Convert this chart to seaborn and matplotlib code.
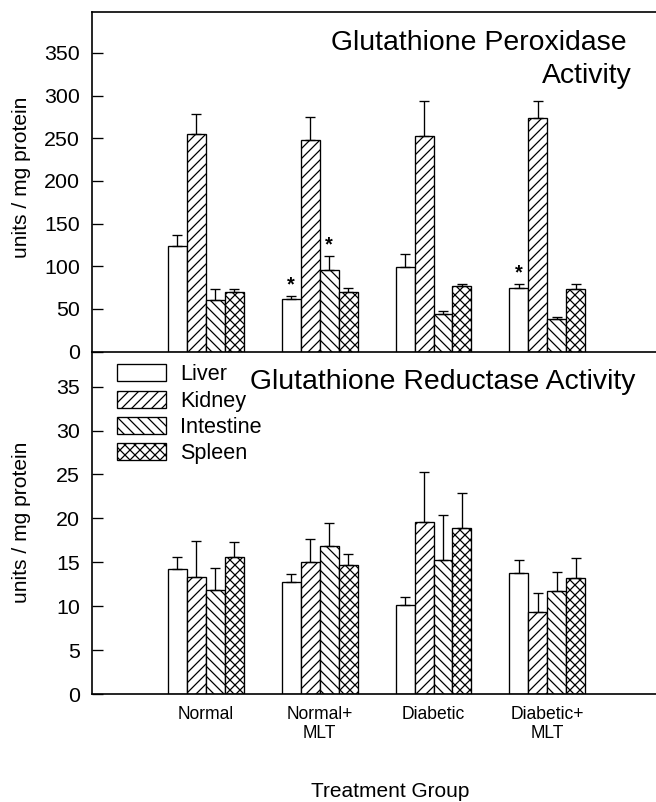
import numpy as np
import pandas as pd
import matplotlib
matplotlib.use("Agg")
import matplotlib.pyplot as plt
import seaborn as sns

# ---------------- data ----------------
groups = ["Normal", "Normal+\nMLT", "Diabetic", "Diabetic+\nMLT"]
tissues = ["Liver", "Kidney", "Intestine", "Spleen"]

# Glutathione peroxidase activity (units / mg protein)
gpx_liver = [123.6, 61.1, 99.6, 74.6]
gpx_kidney = [254.5, 248.2, 252.3, 273.8]
gpx_intestine = [60.0, 95.5, 43.4, 38.3]
gpx_spleen = [69.7, 70.0, 76.5, 73.5]
gpx_liver_err = [12.5, 3.5, 15.0, 4.3]
gpx_kidney_err = [24.0, 27.0, 41.0, 19.5]
gpx_intestine_err = [13.0, 16.0, 3.5, 2.0]
gpx_spleen_err = [4.0, 4.0, 3.0, 5.4]
gpx_significant = [("Normal+\nMLT", "Liver"), ("Normal+\nMLT", "Intestine"),
                   ("Diabetic+\nMLT", "Liver")]

# Glutathione reductase activity (units / mg protein)
gr_liver = [14.2, 12.75, 10.1, 13.75]
gr_kidney = [13.3, 15.0, 19.6, 9.3]
gr_intestine = [11.8, 16.9, 15.3, 11.7]
gr_spleen = [15.6, 14.7, 18.9, 13.2]
gr_liver_err = [1.4, 0.95, 0.9, 1.55]
gr_kidney_err = [4.1, 2.6, 5.7, 2.2]
gr_intestine_err = [2.5, 2.6, 5.1, 2.2]
gr_spleen_err = [1.7, 1.25, 4.0, 2.25]

gpx_ticks = [0, 50, 100, 150, 200, 250, 300, 350]
gr_ticks = [0, 5, 10, 15, 20, 25, 30, 35]

# ---------------- style ----------------
sns.set_theme(style="white")
plt.rcParams["font.family"] = ["Liberation Sans", "DejaVu Sans"]
plt.rcParams.update({
    "hatch.linewidth": 0.75,
    "hatch.color": "black",
    "axes.edgecolor": "black",
    "text.color": "black",
    "xtick.color": "black",
    "ytick.color": "black",
    "axes.labelcolor": "black",
    "axes.linewidth": 1.0,
})

hatches = ["", "////", "\\\\\\\\", "xxxx"]

DPI = 120
W, H = 656, 802
fig = plt.figure(figsize=(W / DPI, H / DPI), dpi=DPI)
fig.patch.set_facecolor("white")


def fx(px):
    return px / W


def fy(py):
    return 1 - py / H


LEFT, RIGHT = 92, 655.5
ax_top = fig.add_axes([fx(LEFT), fy(351.5), fx(RIGHT) - fx(LEFT), fy(12) - fy(351.5)])
ax_bot = fig.add_axes([fx(LEFT), fy(694), fx(RIGHT) - fx(LEFT), fy(351.5) - fy(694)])


def draw_panel(ax, vals, errs, ylim, ticks, sig=()):
    rows = []
    for t in tissues:
        for g, v in zip(groups, vals[t]):
            rows.append({"group": g, "tissue": t, "value": v})
    df = pd.DataFrame(rows)
    sns.barplot(data=df, x="group", y="value", hue="tissue", order=groups,
                hue_order=tissues, palette={t: "white" for t in tissues},
                edgecolor="black", linewidth=0.8, width=0.667, errorbar=None,
                saturation=1, legend=False, ax=ax, zorder=2)
    bar_containers = list(ax.containers)
    for cont, h, t in zip(bar_containers, hatches, tissues):
        xs, ys = [], []
        for p in cont:
            p.set_hatch(h)
            xs.append(p.get_x() + p.get_width() / 2)
            ys.append(p.get_height())
        e = np.array(errs[t])
        ax.errorbar(xs, ys, yerr=[np.zeros_like(e), e], fmt="none",
                    ecolor="black", elinewidth=0.8, capsize=3, capthick=0.8,
                    zorder=3)
    for g, t in sig:
        p = bar_containers[tissues.index(t)][groups.index(g)]
        top = p.get_height() + errs[t][groups.index(g)]
        ax.annotate("*", (p.get_x() + p.get_width() / 2, top),
                    xytext=(0, 7), textcoords="offset points",
                    ha="center", va="center", fontsize=12, fontweight="bold")
    ax.set_xlim(-1.0, 3.95)
    ax.set_ylim(*ylim)
    ax.set_yticks(ticks)
    ax.set_xlabel("")
    ax.set_ylabel("")
    ax.tick_params(axis="y", direction="in", length=6.6, width=0.8,
                   labelsize=12.8, pad=7.2, left=True)
    ax.tick_params(axis="x", bottom=False, length=0)
    ax.set_facecolor("none")
    return bar_containers


draw_panel(ax_top,
           {"Liver": gpx_liver, "Kidney": gpx_kidney,
            "Intestine": gpx_intestine, "Spleen": gpx_spleen},
           {"Liver": gpx_liver_err, "Kidney": gpx_kidney_err,
            "Intestine": gpx_intestine_err, "Spleen": gpx_spleen_err},
           (0, 398), gpx_ticks, gpx_significant)
ax_top.tick_params(axis="x", labelbottom=False)
ax_top.spines["right"].set_visible(False)

bars = draw_panel(ax_bot,
                  {"Liver": gr_liver, "Kidney": gr_kidney,
                   "Intestine": gr_intestine, "Spleen": gr_spleen},
                  {"Liver": gr_liver_err, "Kidney": gr_kidney_err,
                   "Intestine": gr_intestine_err, "Spleen": gr_spleen_err},
                  (0, 39), gr_ticks)
ax_bot.spines["right"].set_visible(False)
ax_bot.spines["top"].set_visible(False)
ax_bot.tick_params(axis="x", labelsize=10.5, pad=7)

ax_bot.legend(handles=bars, labels=tissues, loc="upper left",
              bbox_to_anchor=(0.0444, 0.963), frameon=False, borderpad=0,
              borderaxespad=0, fontsize=13, handlelength=2.26,
              handleheight=0.83, handletextpad=0.65, labelspacing=0.25)

# titles and labels
fig.text(fx(627), fy(50), "Glutathione Peroxidase", ha="right", va="baseline",
         fontsize=17)
fig.text(fx(632), fy(83), "Activity", ha="right", va="baseline", fontsize=17)
fig.text(fx(250), fy(389), "Glutathione Reductase Activity", ha="left",
         va="baseline", fontsize=17)
fig.text(fx(22), fy(177.5), "units / mg protein", rotation=90, ha="center",
         va="center", fontsize=12.6)
fig.text(fx(22), fy(522), "units / mg protein", rotation=90, ha="center",
         va="center", fontsize=12.6)
fig.text(fx(390), fy(797), "Treatment Group", ha="center", va="baseline",
         fontsize=12.5)

fig.savefig("out.png", dpi=DPI, facecolor="white")
